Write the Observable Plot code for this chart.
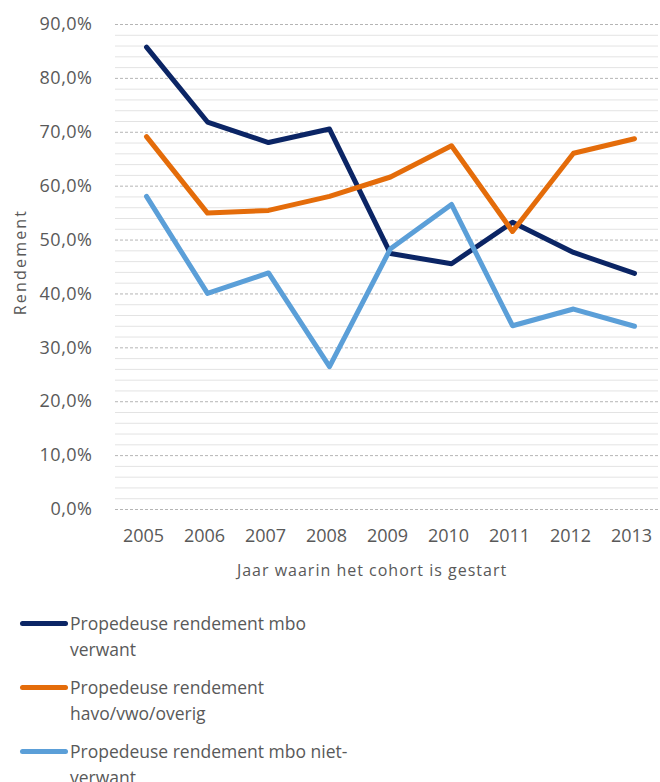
<!DOCTYPE html>
<html>
<head>
<meta charset="utf-8">
<script src="https://cdn.jsdelivr.net/npm/d3@7"></script>
<script src="https://cdn.jsdelivr.net/npm/@observablehq/plot@0.6"></script>
<style>
  body { margin: 0; background: #fff; font-family: "Open Sans", sans-serif; }
  #chart svg { display: block; }
  #legend { margin-top: 20px; }
  .item { display: flex; align-items: flex-start; margin-bottom: 12px; }
  .sw { width: 48px; height: 5px; border-radius: 3px; margin-left: 20px; margin-top: 11px; flex: none; }
  .lbl { font-size: 17.5px; line-height: 26px; color: #595959; margin-left: 2px; }
</style>
</head>
<body>
<div id="chart"></div>
<div id="legend"></div>
<script>
const years = ["2005","2006","2007","2008","2009","2010","2011","2012","2013"];
const mboVerwant     = [85.8, 71.9, 68.1, 70.6, 47.5, 45.6, 53.3, 47.7, 43.8];
const havoVwoOverig  = [69.2, 55.0, 55.5, 58.1, 61.7, 67.5, 51.6, 66.1, 68.8];
const mboNietVerwant = [58.1, 40.1, 43.9, 26.5, 48.4, 56.6, 34.1, 37.2, 34.0];
const seriesNames = [
  "Propedeuse rendement mbo verwant",
  "Propedeuse rendement havo/vwo/overig",
  "Propedeuse rendement mbo niet-verwant"
];
const legendLines = [
  ["Propedeuse rendement mbo", "verwant"],
  ["Propedeuse rendement", "havo/vwo/overig"],
  ["Propedeuse rendement mbo niet-", "verwant"]
];
const seriesColors = ["#0b2565", "#e46c0a", "#5b9fd8"];
const yTicks = [0, 10, 20, 30, 40, 50, 60, 70, 80, 90];
const yMinor = d3.range(0, 91, 2).filter(v => v % 10 !== 0);
const yLabel = ["Rendement"];
const xLabel = ["Jaar waarin het cohort is gestart"];

const allSeries = [mboVerwant, havoVwoOverig, mboNietVerwant];
const data = [];
allSeries.forEach((vals, i) => vals.forEach((v, j) => data.push({year: years[j], value: v, series: seriesNames[i]})));

const fmt = d => d.toFixed(1).replace(".", ",") + "%";

const chart = Plot.plot({
  width: 660,
  height: 590,
  marginLeft: 115,
  marginRight: 2,
  marginTop: 24,
  marginBottom: 81,
  style: { fontFamily: "Open Sans, sans-serif", background: "#fff" },
  x: { type: "point", domain: years, range: [146, 634], padding: 0, axis: null },
  y: { domain: [0, 90], axis: null },
  color: { domain: seriesNames, range: seriesColors },
  marks: [
    Plot.ruleY(yMinor, { stroke: "#e3e3e3", strokeWidth: 1 }),
    Plot.ruleY(yTicks, { stroke: "#b5b5b5", strokeWidth: 1, strokeDasharray: "3,2" }),
    Plot.axisY(yTicks, { tickSize: 0, tickPadding: 23, tickFormat: fmt, fontSize: 18, fill: "#595959", label: null }),
    Plot.axisX(years, { tickSize: 0, tickPadding: 20, dx: -3, fontSize: 18, fill: "#595959", label: null }),
    Plot.text(yLabel, { frameAnchor: "left", textAnchor: "middle", dx: -95, dy: -5, rotate: -90, fontSize: 16, fill: "#595959" }),
    Plot.text(xLabel, { frameAnchor: "bottom", dy: 66, dx: -15, fontSize: 16, fill: "#595959" }),
    Plot.line(data, { x: "year", y: "value", z: "series", stroke: "series", strokeWidth: 5, strokeLinejoin: "round", strokeLinecap: "round" })
  ]
});
document.getElementById("chart").appendChild(chart);

d3.select(chart).selectAll("text").each(function() {
  const t = this.textContent;
  if (t === yLabel[0]) d3.select(this).style("letter-spacing", "2.2px");
  else if (t === xLabel[0]) d3.select(this).style("letter-spacing", "1px");
  else if (t.endsWith("%")) d3.select(this).style("letter-spacing", "0.5px");
});

const legend = document.getElementById("legend");
legendLines.forEach((lines, i) => {
  const item = document.createElement("div");
  item.className = "item";
  const sw = document.createElement("div");
  sw.className = "sw";
  sw.style.background = seriesColors[i];
  const lbl = document.createElement("div");
  lbl.className = "lbl";
  lbl.innerHTML = lines.join("<br>");
  item.appendChild(sw);
  item.appendChild(lbl);
  legend.appendChild(item);
});
</script>
</body>
</html>
